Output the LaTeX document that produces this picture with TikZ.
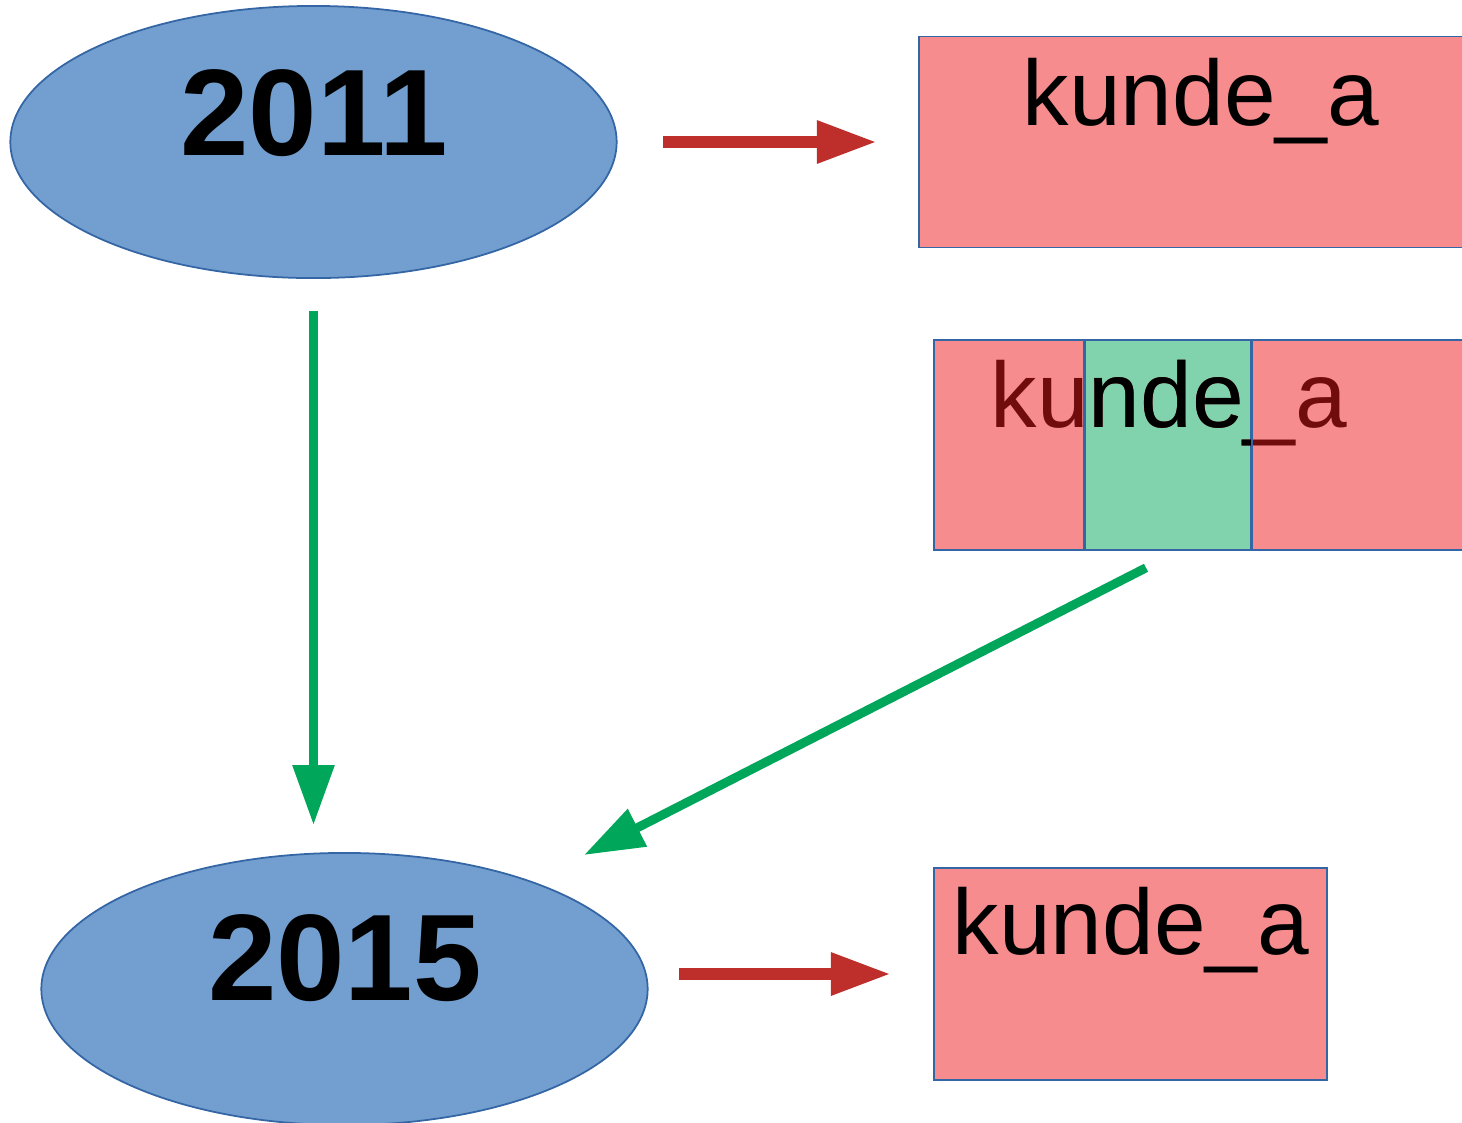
\documentclass[tikz,border=0pt]{standalone}
\usepackage{fontspec}
\setmainfont{Liberation Sans}
\usepackage{tikz}
\usetikzlibrary{calc,shapes.geometric,arrows.meta}

\definecolor{ellfill}{HTML}{729FCF}
\definecolor{ellline}{HTML}{3465A4}
\definecolor{boxpink}{HTML}{F68C8E}
\definecolor{boxgreen}{HTML}{81D3AE}
\definecolor{arrowred}{HTML}{BE2F2C}
\definecolor{arrowgreen}{HTML}{00A65A}
\definecolor{textred}{HTML}{700C0C}

\begin{document}
\begin{tikzpicture}[x=0.01cm, y=-0.01cm,
	year/.style={ellipse, fill=ellfill, draw=ellline, line width=0.5pt, minimum width=6.06cm, minimum height=2.72cm, inner sep=0pt},
	yeartext/.style={anchor=base, inner sep=0pt, font=\fontsize{35pt}{42pt}\selectfont\bfseries},
	pinkbox/.style={rectangle, fill=boxpink, draw=ellline, line width=0.5pt, inner sep=0pt},
	word/.style={anchor=base, inner sep=0pt, font=\fontsize{26.4pt}{32pt}\selectfont},
	redarrow/.style={draw=arrowred, line width=0.12cm, -{Triangle[length=0.6cm,width=0.4cm]}},
	greenarrow/.style={draw=arrowgreen, line width=0.09cm, -{Triangle[length=0.6cm,width=0.4cm]}}]
	
	\useasboundingbox (0,0) rectangle (1462,1123);
	\clip (0,0) rectangle (1462,1123);
	
	\node[year] (y2011) at (313.5,142) {};
	\node[yeartext] (t2011) at (314,155) {2011};
	\node[year] (y2015) at (344.5,989) {};
	\node[yeartext] (t2015) at (345,1000) {2015};
	
	\node[pinkbox, minimum width=5.64cm, minimum height=2.11cm] (box1) at (1201,142) {};
	\node[word] (w1) at (1201,125) {kunde\_a};
	
	\node[pinkbox, minimum width=5.4cm, minimum height=2.1cm] (box2) at (1204,445) {};
	\node[pinkbox, fill=boxgreen, minimum width=1.66cm, minimum height=2.1cm] (seg) at (1168,445) {};
	\node[word, text=textred] (w2) at (1169,427) {kunde\_a};
	\begin{scope}
		\clip (seg.north west) rectangle (seg.south east);
		\node[word] (w2b) at (1169,427) {kunde\_a};
	\end{scope}
	\draw[ellline, line width=0.5pt] (seg.north west) -- (seg.south west) (seg.north east) -- (seg.south east);
	
	\node[pinkbox, minimum width=3.93cm, minimum height=2.12cm] (box3) at (1130.5,974) {};
	\node[word] (w3) at (1131,954) {kunde\_a};
	
	\coordinate (tip) at (584,855);
	
	\draw[redarrow, shorten <=0.455cm, shorten >=0.41cm] (y2011.east) -- (box1.west);
	\draw[redarrow, shorten <=0.3cm, shorten >=0.42cm] (y2015.east |- box3.west) -- (box3.west);
	\draw[greenarrow, shorten <=0.32cm, shorten >=0.27cm] (y2011.south) -- (y2011.south |- y2015.north);
	\draw[greenarrow, shorten <=0.37cm] ([xshift=-0.25cm]box2.south) -- (tip);
	
\end{tikzpicture}
\end{document}
